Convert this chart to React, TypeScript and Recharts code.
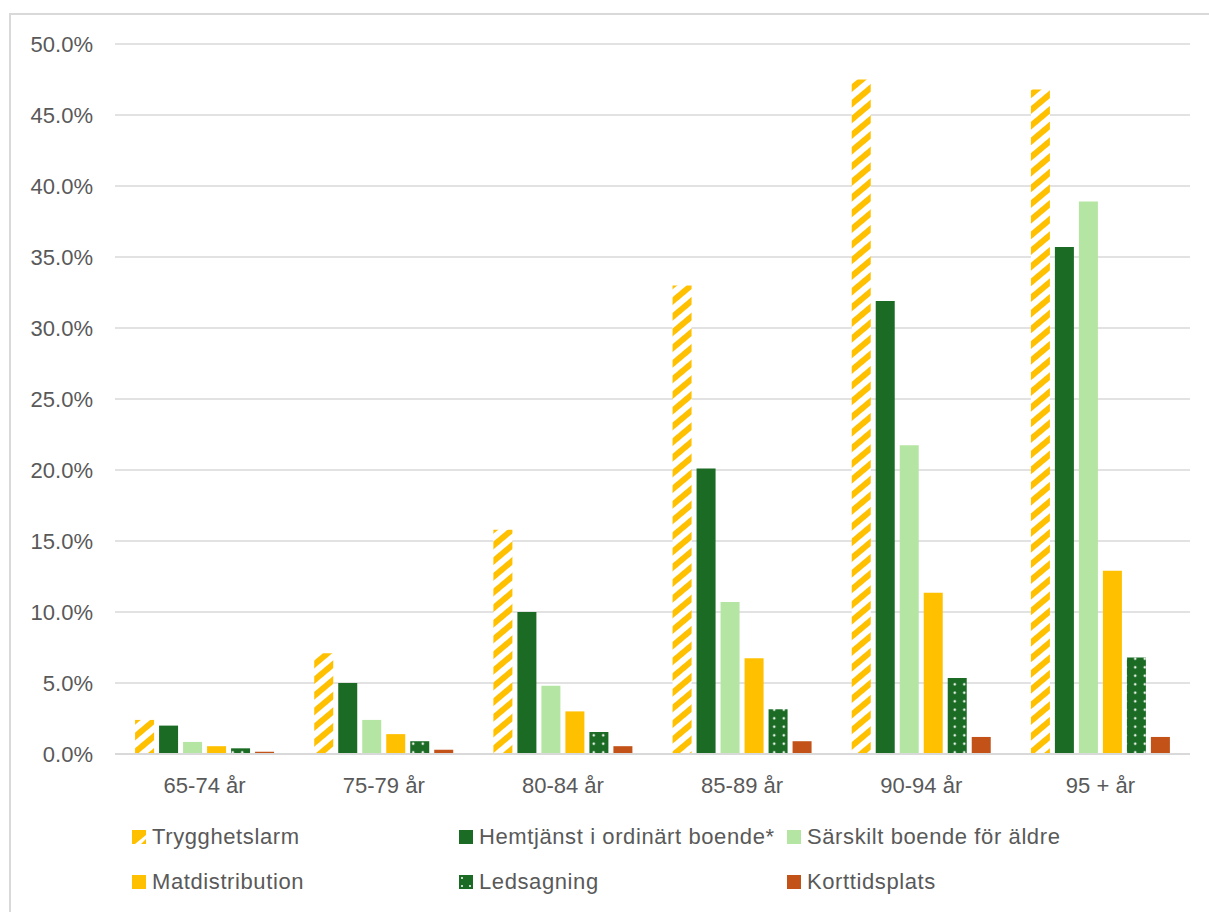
import React from 'react';
import { BarChart, Bar, XAxis, YAxis, CartesianGrid } from 'recharts';

// Andel av befolkningen per åldersgrupp (%)
const ageGroups = ['65-74 år', '75-79 år', '80-84 år', '85-89 år', '90-94 år', '95 + år'];
const trygghetslarm = [2.4, 7.1, 15.8, 33.0, 47.5, 46.8];
const hemtjanst = [2.0, 5.0, 10.0, 20.1, 31.9, 35.7];
const sarskiltBoende = [0.85, 2.4, 4.8, 10.7, 21.75, 38.9];
const matdistribution = [0.55, 1.4, 3.0, 6.75, 11.35, 12.9];
const ledsagning = [0.4, 0.9, 1.55, 3.15, 5.35, 6.8];
const korttidsplats = [0.15, 0.3, 0.55, 0.9, 1.2, 1.2];
const yTicks = [0, 5, 10, 15, 20, 25, 30, 35, 40, 45, 50];

const SERIES = [
  { key: 'trygg', name: 'Trygghetslarm', fill: 'url(#stripes)', color: '#FFC000' },
  { key: 'hemtj', name: 'Hemtjänst i ordinärt boende*', fill: '#1B6B25', color: '#1B6B25' },
  { key: 'sarsk', name: 'Särskilt boende för äldre', fill: '#B5E5A2', color: '#B5E5A2' },
  { key: 'mat', name: 'Matdistribution', fill: '#FFC000', color: '#FFC000' },
  { key: 'led', name: 'Ledsagning', fill: 'url(#dots)', color: '#1B6B25' },
  { key: 'kort', name: 'Korttidsplats', fill: '#C25217', color: '#C25217' },
];

const data = ageGroups.map((age, i) => ({
  age,
  trygg: trygghetslarm[i],
  hemtj: hemtjanst[i],
  sarsk: sarskiltBoende[i],
  mat: matdistribution[i],
  led: ledsagning[i],
  kort: korttidsplats[i],
}));

const FONT = '"Liberation Sans", Arial, sans-serif';
const TEXT = '#595959';
const GRID = '#D9D9D9';

const LegendIcon = ({ s }: { s: (typeof SERIES)[number] }) => {
  if (s.key === 'trygg') {
    return (
      <svg width={14} height={14}>
        <rect width={14} height={14} fill="#FFC000" />
        <polygon points="3,14 9,14 14,9 14,5" fill="#fff" />
      </svg>
    );
  }
  if (s.key === 'led') {
    return (
      <svg width={14} height={14}>
        <rect width={14} height={14} fill="#1B6B25" />
        <circle cx={3} cy={3} r={1} fill="#fff" />
        <circle cx={11} cy={11} r={1} fill="#fff" />
        <circle cx={3} cy={11} r={1} fill="#fff" />
      </svg>
    );
  }
  return <div style={{ width: 14, height: 14, background: s.color }} />;
};

const legendCols = [132, 459, 787];
const legendRows = [837, 882];

export default function App() {
  return (
    <div style={{ position: 'relative', width: 1209, height: 912, overflow: 'hidden', fontFamily: FONT }}>
      <style>{`body{margin:0;overflow:hidden;}`}</style>
      <div
        style={{
          position: 'absolute',
          left: 9,
          top: 13,
          width: 1260,
          height: 960,
          border: `2px solid ${GRID}`,
          boxSizing: 'border-box',
        }}
      />
      <div style={{ position: 'absolute', left: 0, top: 0 }}>
        <BarChart
          width={1209}
          height={912}
          data={data}
          margin={{ top: 44, right: 19, left: 0, bottom: 0 }}
          barCategoryGap="11.2%"
          barGap={5}
        >
          <defs>
            <pattern
              id="stripes"
              patternUnits="userSpaceOnUse"
              width={12}
              height={12}
              patternTransform="rotate(-40)"
            >
              <rect width={12} height={12} fill="#fff" />
              <rect width={12} height={6} fill="#FFC000" />
            </pattern>
            <pattern id="dots" patternUnits="userSpaceOnUse" width={9.5} height={8.5}>
              <rect width={9.5} height={8.5} fill="#1B6B25" />
              <circle cx={4.75} cy={4.25} r={1.2} fill="#fff" />
            </pattern>
          </defs>
          <CartesianGrid vertical={false} stroke={GRID} strokeWidth={1.5} />
          <XAxis
            dataKey="age"
            height={158}
            axisLine={{ stroke: GRID, strokeWidth: 2 }}
            tickLine={false}
            tickSize={0}
            tickMargin={23}
            tick={{ fill: TEXT, fontSize: 22, fontFamily: FONT }}
          />
          <YAxis
            width={115}
            domain={[0, 50]}
            ticks={yTicks}
            axisLine={false}
            tickLine={false}
            tickSize={0}
            tickMargin={22}
            tickFormatter={(v: number) => `${v.toFixed(1)}%`}
            tick={{ fill: TEXT, fontSize: 22, fontFamily: FONT }}
          />
          {SERIES.map((s) => (
            <Bar key={s.key} dataKey={s.key} name={s.name} fill={s.fill} isAnimationActive={false} />
          ))}
        </BarChart>
      </div>
      {SERIES.map((s, i) => (
        <div
          key={s.key}
          style={{
            position: 'absolute',
            left: legendCols[i % 3],
            top: legendRows[Math.floor(i / 3)] - 13,
            height: 26,
            display: 'flex',
            alignItems: 'center',
            gap: 6,
            color: TEXT,
            fontSize: 22,
            letterSpacing: 0.6,
            whiteSpace: 'nowrap',
          }}
        >
          <LegendIcon s={s} />
          <span>{s.name}</span>
        </div>
      ))}
    </div>
  );
}
